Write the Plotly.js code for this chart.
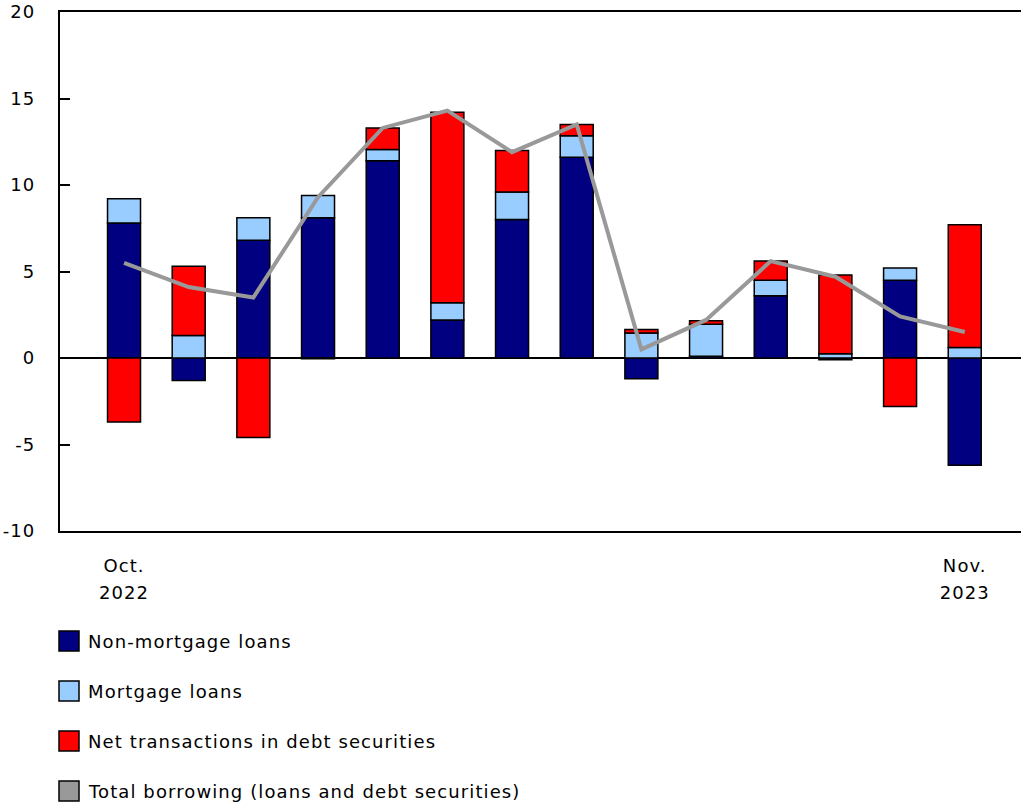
<!DOCTYPE html>
<html>
<head>
<meta charset="utf-8">
<script src="https://cdn.plot.ly/plotly-3.0.1.min.js"></script>
<style>html,body{margin:0;padding:0;background:#fff}#chart{width:1021px;height:805px}svg text{letter-spacing:1.1px}</style>
</head>
<body>
<div id="chart"></div>
<script>
var months = ["Oct. 2022","Nov. 2022","Dec. 2022","Jan. 2023","Feb. 2023","Mar. 2023","Apr. 2023","May 2023","Jun. 2023","Jul. 2023","Aug. 2023","Sep. 2023","Oct. 2023","Nov. 2023"];
var nonMortgage = [7.8, -1.3, 6.8, 8.1, 11.4, 2.2, 8.0, 11.6, -1.2, 0.1, 3.6, -0.1, 4.5, -6.2];
var mortgage    = [1.4, 1.3, 1.3, 1.3, 0.65, 1.0, 1.6, 1.25, 1.45, 1.85, 0.9, 0.25, 0.7, 0.6];
var debt        = [-3.7, 4.0, -4.6, -0.05, 1.25, 11.0, 2.4, 0.65, 0.2, 0.2, 1.1, 4.55, -2.8, 7.1];
var total       = [5.5, 4.1, 3.5, 9.3, 13.3, 14.3, 11.9, 13.5, 0.5, 2.2, 5.6, 4.7, 2.4, 1.5];
var tickMonth = ["Oct.", "Nov."];
var tickYear = ["2022", "2023"];
var yTickVals = [-10, -5, 0, 5, 10, 15, 20];
var yTickText = ["-10", "-5", "0", "5", "10", "15", "20"];
var seriesNames = ["Non-mortgage loans","Mortgage loans","Net transactions in debt securities","Total borrowing (loans and debt securities)"];
var seriesColors = ["#000080","#99CCFF","#FF0000","#999999"];

var FONT = "DejaVu Sans, Verdana, sans-serif";
var W = 1021, H = 805;
var M = {l:60, r:0, t:12, b:274};
var pw = W - M.l - M.r, ph = H - M.t - M.b;
function px(x){ return (x - M.l)/pw; }
function py(y){ return (H - M.b - y)/ph; }

var barLine = {color:"#000000", width:1.5};
var traces = [
  {type:"bar", name:seriesNames[0], x:months, y:nonMortgage, marker:{color:seriesColors[0], line:barLine}, showlegend:false},
  {type:"bar", name:seriesNames[1], x:months, y:mortgage, marker:{color:seriesColors[1], line:barLine}, showlegend:false},
  {type:"bar", name:seriesNames[2], x:months, y:debt, marker:{color:seriesColors[2], line:barLine}, showlegend:false},
  {type:"scatter", mode:"lines", name:seriesNames[3], x:months, y:total, line:{color:seriesColors[3], width:4}, showlegend:false},
  {type:"scatter", mode:"lines", x:[], y:[], xaxis:"x2", showlegend:false, hoverinfo:"skip"}
];

var shapes = [], annotations = [];
var rowY = [641, 691, 741, 791];
for (var i = 0; i < seriesNames.length; i++) {
  shapes.push({type:"rect", xref:"paper", yref:"paper",
    x0:px(59), x1:px(79), y0:py(rowY[i]-10), y1:py(rowY[i]+10),
    fillcolor:seriesColors[i], line:{color:"#000000", width:1.5}});
  annotations.push({xref:"paper", yref:"paper", x:px(86), y:py(rowY[i]), xanchor:"left", yanchor:"middle",
    text:seriesNames[i], showarrow:false, font:{family:FONT, size:18, color:"#000000"}});
}

var layout = {
  width:W, height:H,
  margin:M,
  paper_bgcolor:"#ffffff", plot_bgcolor:"#ffffff",
  barmode:"relative", bargap:0.49,
  showlegend:false,
  font:{family:FONT, size:18, color:"#000000"},
  xaxis:{type:"category", range:[-0.99, 13.87], showgrid:false, zeroline:false,
    showline:true, linecolor:"#000000", linewidth:2, mirror:true,
    ticks:"", tickvals:[months[0], months[13]], ticktext:tickMonth,
    ticklabelstandoff:17, tickfont:{family:FONT, size:18, color:"#000000"}},
  xaxis2:{overlaying:"x", anchor:"y", side:"bottom", type:"linear", range:[-0.99, 13.87],
    showgrid:false, zeroline:false, showline:false, ticks:"",
    tickvals:[0, 13], ticktext:tickYear, ticklabelstandoff:49,
    tickfont:{family:FONT, size:18, color:"#000000"}},
  yaxis:{range:[-10, 20], tickvals:yTickVals, ticktext:yTickText, showgrid:false,
    zeroline:true, zerolinecolor:"#000000", zerolinewidth:2,
    showline:true, linecolor:"#000000", linewidth:2, mirror:false,
    ticks:"inside", ticklen:10, tickwidth:2, tickcolor:"#000000",
    ticklabelstandoff:19, tickfont:{family:FONT, size:18, color:"#000000"}},
  shapes:shapes,
  annotations:annotations
};
Plotly.newPlot("chart", traces, layout, {displayModeBar:false, staticPlot:true});
</script>
</body>
</html>
